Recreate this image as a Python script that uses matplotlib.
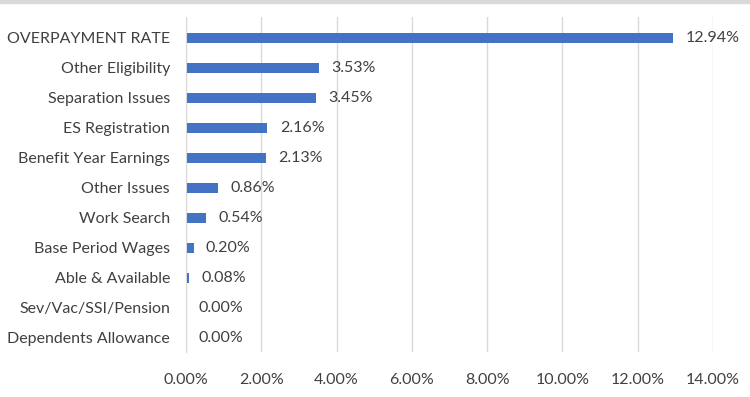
import matplotlib.pyplot as plt
from matplotlib.patches import Rectangle

categories = ['OVERPAYMENT RATE', 'Other Eligibility', 'Separation Issues',
              'ES Registration', 'Benefit Year Earnings', 'Other Issues',
              'Work Search', 'Base Period Wages', 'Able & Available',
              'Sev/Vac/SSI/Pension', 'Dependents Allowance']
rates = [12.94, 3.53, 3.45, 2.16, 2.13, 0.86, 0.54, 0.20, 0.08, 0.00, 0.00]
xticks = [0, 2, 4, 6, 8, 10, 12, 14]

plt.rcParams['font.family'] = ['Lato', 'DejaVu Sans']
txt = '#404040'

fig = plt.figure(figsize=(7.5, 3.97), dpi=100)
ax = fig.add_axes([186 / 750, 1 - 352 / 397, (713 - 186) / 750, (352 - 17) / 397])

pos = list(range(len(categories)))
ax.barh(pos, rates, height=0.36, color='#4472C4', zorder=3)
for y, v in zip(pos, rates):
    ax.text(v + 0.33, y, f'{v:.2f}%', va='center', ha='left', fontsize=11.5, color=txt)

ax.set_xlim(0, 14)
ax.set_ylim(10.47, -0.7)
ax.set_yticks(pos)
ax.set_yticklabels(categories, fontsize=11.5, color=txt)
ax.set_xticks(xticks)
ax.set_xticklabels([f'{t:.2f}%' for t in xticks], fontsize=11.5, color=txt)
ax.tick_params(length=0)
ax.tick_params(axis='y', pad=11.5)
ax.tick_params(axis='x', pad=15)
ax.grid(axis='x', color='#d9d9d9', linewidth=1, zorder=0)
for s in ['top', 'right', 'bottom']:
    ax.spines[s].set_visible(False)
ax.spines['left'].set_color('#d9d9d9')
ax.spines['left'].set_zorder(4)

# light border strip at top of the chart
fig.patches.append(Rectangle((0, 1 - 2.5 / 397), 1, 2.5 / 397, transform=fig.transFigure,
                             color='#d9d9d9', zorder=0))

fig.savefig('out.png', dpi=100)
